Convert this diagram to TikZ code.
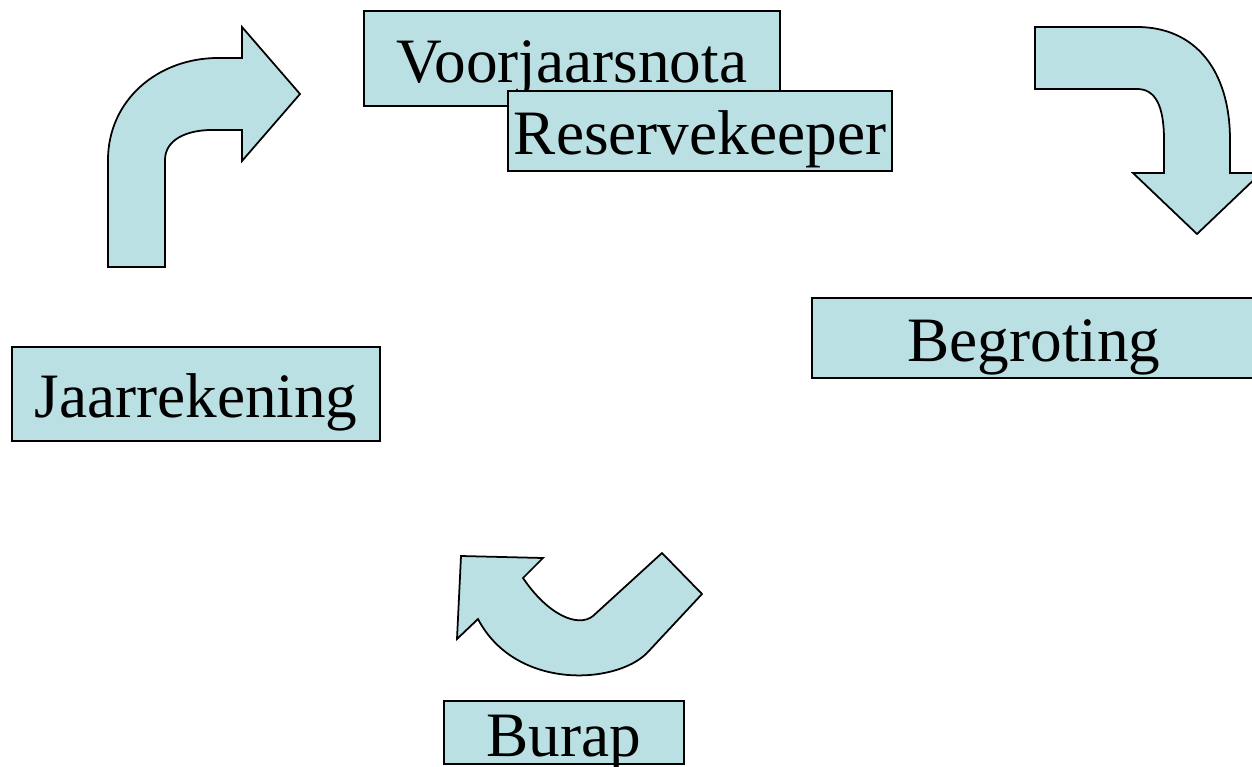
\documentclass[tikz,border=0pt]{standalone}
\usepackage{fontspec}
\setmainfont{Liberation Serif}
\usepackage{tikz}
\usetikzlibrary{positioning}
\usepackage{xcolor}
\definecolor{Lagune}{RGB}{187,224,227}

\begin{document}
\begin{tikzpicture}[x=0.02cm, y=-0.02cm,
  fase/.style={draw=black, line width=1pt, fill=Lagune, inner sep=0pt,
    font=\fontsize{36}{40}\selectfont, text height=0.96cm, text depth=0pt},
  pijl/.style={draw=black, line width=1pt, fill=Lagune, line join=miter}]
\useasboundingbox (0,0) rectangle (1252,767);
\clip (0,0) rectangle (1252,767);
%
% cycle phases
\node[fase, minimum width=8.32cm, minimum height=1.9cm] (voorjaar) at (572,58.5) {Voorjaarsnota};
\node[fase, minimum width=7.68cm, minimum height=1.6cm] (reserve) at (700,131) {Reservekeeper};
\node[fase, minimum width=8.88cm, minimum height=1.6cm] (begroting) at (1034,338) {Begroting};
\node[fase, minimum width=4.8cm, minimum height=1.26cm] (burap) at (564,732.5) {Burap};
\node[fase, minimum width=7.36cm, minimum height=1.88cm] (jaarrek) at (196,394) {Jaarrekening};
%
% bent arrows between the phases
\draw[pijl] (108,267) -- (108,160) .. controls (108,100) and (158,58) .. (218,58)
  -- (242,58) -- (242,27) -- (300,94) -- (242,161) -- (242,130) -- (212,130)
  .. controls (186,130) and (165,140) .. (165,160) -- (165,267) -- cycle;
\draw[pijl] (1035,27) -- (1137,27) .. controls (1195,27) and (1230,70) .. (1230,140)
  -- (1230,173) -- (1261,173) -- (1197,234) -- (1133,173) -- (1164,173) -- (1164,140)
  .. controls (1164,105) and (1155,89) .. (1137,89) -- (1035,89) -- cycle;
\draw[pijl] (662,553) -- (702,594) -- (647,653) .. controls (615,685) and (515,690) .. (478,619)
  -- (457,639) -- (461,556) -- (543,558) -- (523,578)
  .. controls (548,615) and (578,628) .. (593,616) -- cycle;
%
\end{tikzpicture}
\end{document}
